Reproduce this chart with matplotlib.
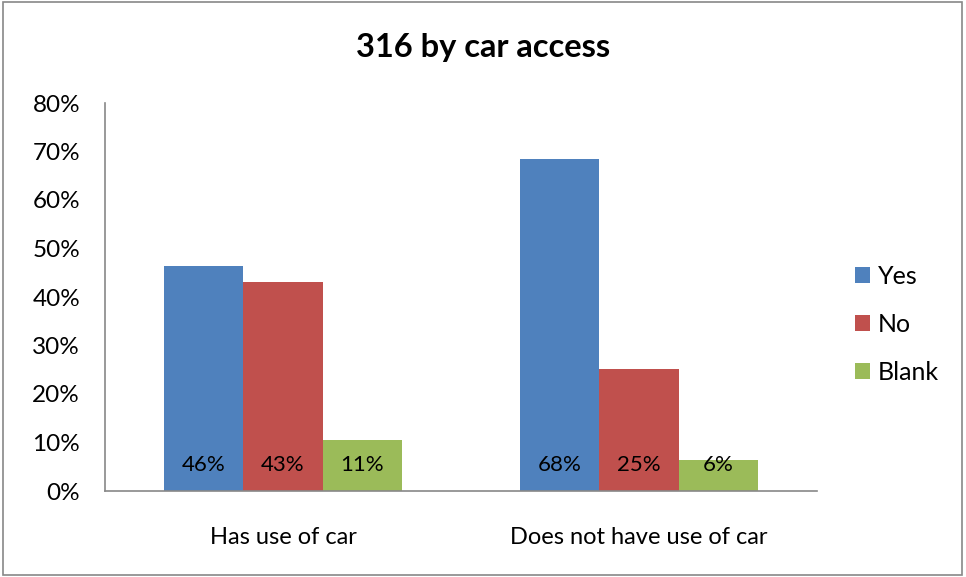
import matplotlib.pyplot as plt
import numpy as np
from matplotlib.patches import Rectangle

plt.rcParams["font.family"] = ["Lato", "DejaVu Sans"]

categories = ["Has use of car", "Does not have use of car"]
series = ["Yes", "No", "Blank"]
yes = [0.463, 0.684]
no = [0.431, 0.252]
blank = [0.106, 0.064]
colors = ["#4F81BD", "#C0504D", "#9BBB59"]

fig = plt.figure(figsize=(9.66, 5.77), dpi=100)
ax = fig.add_axes([105 / 966, 1 - 491 / 577, 712 / 966, 388 / 577])

x = np.arange(len(categories))
width = 0.222
for i, (name, vals) in enumerate(zip(series, [yes, no, blank])):
    pos = x + (i - 1) * width
    ax.bar(pos, vals, width, color=colors[i], label=name)
    for px, v in zip(pos, vals):
        ax.annotate(f"{v:.0%}", xy=(px, 0), xytext=(0, 18.5),
                    textcoords="offset points", ha="center", va="center",
                    fontsize=16, color="black")

ax.set_xlim(-0.5, 1.5)
ax.set_ylim(0, 0.8)
ticks = np.arange(0, 0.81, 0.1)
ax.set_yticks(ticks)
ax.set_yticklabels([f"{int(round(t * 100))}%" for t in ticks])
ax.set_xticks(x)
ax.set_xticklabels(categories)
ax.tick_params(axis="y", length=0, labelsize=17.5, pad=18)
ax.tick_params(axis="x", length=0, labelsize=17, pad=26)
for s in ["top", "right"]:
    ax.spines[s].set_visible(False)
for s in ["left", "bottom"]:
    ax.spines[s].set_color("#888888")
    ax.spines[s].set_linewidth(1.2)

fig.text(483 / 966, 1 - 48 / 577, "316 by car access", ha="center", va="center",
         fontsize=23.5, fontweight="bold")

ax.legend(loc="center left", bbox_to_anchor=(855 / 966, 1 - 324 / 577),
          bbox_transform=fig.transFigure, borderaxespad=0, borderpad=0,
          frameon=False, fontsize=18, handlelength=0.6, handleheight=0.6,
          handletextpad=0.3, labelspacing=1.0)

fig.patches.append(Rectangle((3 / 966, 2 / 577), 959 / 966, 573 / 577,
                             transform=fig.transFigure, fill=False,
                             edgecolor="#888888", linewidth=1.2))

fig.savefig("out.png", dpi=100)
